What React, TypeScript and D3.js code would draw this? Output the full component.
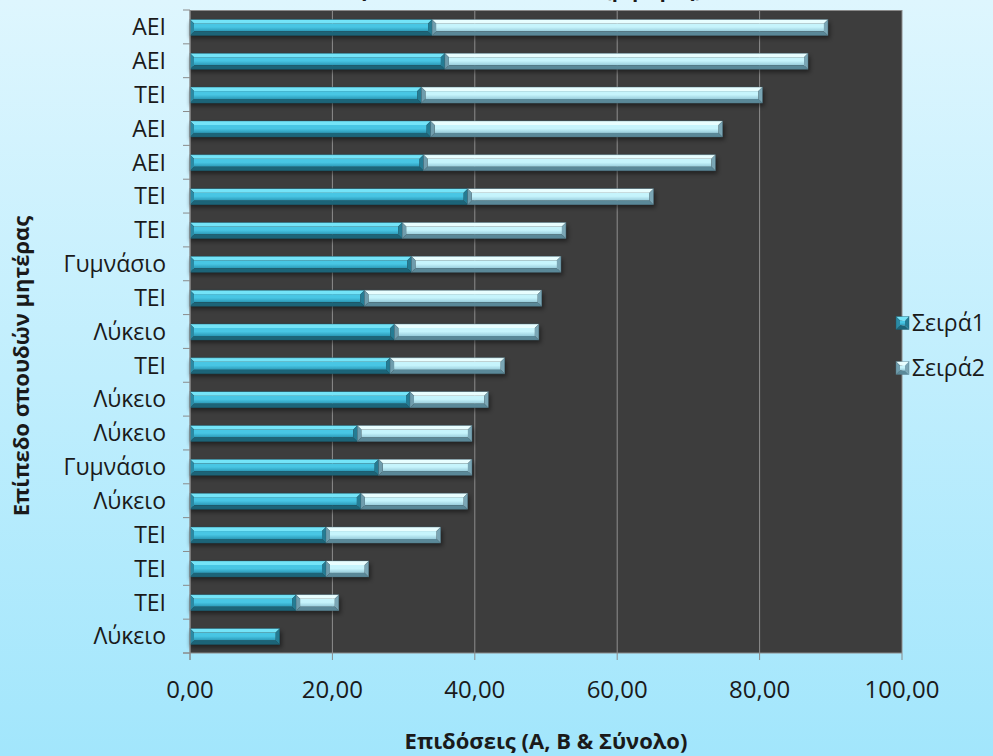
import React from "react";
import * as d3 from "d3";

const categories = [
  "ΑΕΙ", "ΑΕΙ", "ΤΕΙ", "ΑΕΙ", "ΑΕΙ", "ΤΕΙ", "ΤΕΙ", "Γυμνάσιο", "ΤΕΙ", "Λύκειο",
  "ΤΕΙ", "Λύκειο", "Λύκειο", "Γυμνάσιο", "Λύκειο", "ΤΕΙ", "ΤΕΙ", "ΤΕΙ", "Λύκειο",
];
const series1 = [34.0, 35.8, 32.5, 33.8, 32.8, 39.0, 29.8, 31.1, 24.5, 28.7, 28.1, 30.9, 23.5, 26.5, 24.0, 19.1, 19.1, 14.9, 12.6];
const series2 = [55.6, 51.0, 47.9, 41.0, 41.0, 26.1, 23.0, 21.0, 24.9, 20.3, 16.1, 11.0, 16.1, 13.1, 15.0, 16.1, 6.0, 6.0, 0.0];
const seriesNames = ["Σειρά1", "Σειρά2"];
const xTicks = [0, 20, 40, 60, 80, 100];
const xTitle = "Επιδόσεις (Α, Β & Σύνολο)";
const yTitle = "Επίπεδο σπουδών μητέρας";
const chartTitle = "Επιδόσεις ανά επίπεδο σπουδών (μητέρας)";

const W = 993, H = 756;
const plot = { left: 190, right: 902, top: 10, bottom: 653 };
const FONT = "'Open Sans', 'Noto Sans', sans-serif";

type Pal = { top: string; faceA: string; faceB: string; bottom: string; left: string; right: string; edge: string };
const pals: Pal[] = [
  { top: "#74e4f8", faceA: "#48c6e4", faceB: "#2b98b6", bottom: "#1c6478", left: "#2a8aa4", right: "#247c94", edge: "#1a5a6c" },
  { top: "#e8feff", faceA: "#c6f4fc", faceB: "#98ccdb", bottom: "#5a8898", left: "#6f9dad", right: "#7aa6b5", edge: "#4e7888" },
];

function BevelBar({ x0, x1, y0, y1, p, id }: { x0: number; x1: number; y0: number; y1: number; p: Pal; id: string }) {
  const w = x1 - x0;
  if (w <= 0.5) return null;
  const b = Math.min(4, w / 2);
  const pts = (a: number[][]) => a.map((q) => q.join(",")).join(" ");
  return (
    <g>
      <rect x={x0 + b} y={y0 + b} width={Math.max(0, w - 2 * b)} height={y1 - y0 - 2 * b} fill={`url(#${id})`} />
      <polygon points={pts([[x0, y0], [x1, y0], [x1 - b, y0 + b], [x0 + b, y0 + b]])} fill={p.top} />
      <polygon points={pts([[x0, y1], [x1, y1], [x1 - b, y1 - b], [x0 + b, y1 - b]])} fill={p.bottom} />
      <polygon points={pts([[x0, y0], [x0 + b, y0 + b], [x0 + b, y1 - b], [x0, y1]])} fill={p.left} />
      <polygon points={pts([[x1, y0], [x1 - b, y0 + b], [x1 - b, y1 - b], [x1, y1]])} fill={p.right} />
      <rect x={x0} y={y0} width={w} height={y1 - y0} fill="none" stroke={p.edge} strokeWidth={0.6} opacity={0.7} />
    </g>
  );
}

export default function App() {
  const x = d3.scaleLinear().domain([0, 100]).range([plot.left, plot.right]);
  const idx = categories.map((_, i) => String(i));
  const y = d3.scaleBand().domain(idx).range([plot.top, plot.bottom]).paddingInner(0).paddingOuter(0);
  const bw = y.bandwidth();
  const barH = 16;

  const stacked = categories.map((c, i) => {
    const a = series1[i];
    const b = series2[i];
    return { c, i, segs: [[0, a], [a, a + b]] };
  });

  return (
    <svg width={W} height={H} style={{ position: "absolute", left: 0, top: 0 }} fontFamily={FONT}>
      <defs>
        <linearGradient id="bg" x1="0" y1="0" x2="0" y2="1">
          <stop offset="0" stopColor="#def6fe" />
          <stop offset="1" stopColor="#a2e6fc" />
        </linearGradient>
        {pals.map((p, k) => (
          <linearGradient key={k} id={`face${k}`} x1="0" y1="0" x2="0" y2="1">
            <stop offset="0" stopColor={p.faceA} />
            <stop offset="0.45" stopColor={p.faceA} />
            <stop offset="1" stopColor={p.faceB} />
          </linearGradient>
        ))}
        <filter id="shadow" x="-5%" y="-50%" width="110%" height="200%">
          <feGaussianBlur stdDeviation="2" />
        </filter>
      </defs>
      <rect x={0} y={0} width={W} height={H} fill="url(#bg)" />
      <text x={702} y={-3} textAnchor="end" fontSize={20} fontWeight="bold" fill="#1a1a1a">{chartTitle}</text>

      {/* plot area */}
      <rect x={plot.left} y={plot.top} width={plot.right - plot.left} height={plot.bottom - plot.top} fill="#3d3d3d" />
      {xTicks.map((t) => (
        <line key={t} x1={x(t)} x2={x(t)} y1={plot.top} y2={plot.bottom} stroke="#8e8e8e" strokeWidth={1} />
      ))}
      <line x1={plot.left} x2={plot.right} y1={plot.top + 0.5} y2={plot.top + 0.5} stroke="#8a8a8a" />

      {/* bars */}
      {stacked.map((d) => {
        const cy = (y(String(d.i)) as number) + bw / 2 + 0.5;
        const y0 = cy - barH / 2, y1 = cy + barH / 2;
        const total = d.segs[1][1];
        return (
          <g key={d.i}>
            <rect x={x(0)} y={y0 + 3} width={x(total) - x(0) + 2} height={barH} fill="#000" opacity={0.45} filter="url(#shadow)" />
            {d.segs.map((s, k) => (
              <BevelBar key={k} x0={x(s[0])} x1={x(s[1])} y0={y0} y1={y1} p={pals[k]} id={`face${k}`} />
            ))}
          </g>
        );
      })}

      {/* axes */}
      <line x1={plot.left} x2={plot.left} y1={plot.top} y2={plot.bottom + 7} stroke="#8a8a8a" />
      {d3.range(categories.length + 1).map((k) => {
        const yy = plot.top + k * bw;
        return <line key={k} x1={plot.left - 7} x2={plot.left} y1={yy} y2={yy} stroke="#8a8a8a" />;
      })}
      <line x1={plot.left - 7} x2={plot.right} y1={plot.bottom} y2={plot.bottom} stroke="#8a8a8a" />
      {xTicks.map((t) => (
        <line key={"t" + t} x1={x(t)} x2={x(t)} y1={plot.bottom} y2={plot.bottom + 7} stroke="#8a8a8a" />
      ))}
      {xTicks.map((t) => (
        <text key={"l" + t} x={x(t)} y={698} textAnchor="middle" fontSize={24} fill="#1a1a1a">
          {d3.format(".2f")(t).replace(".", ",")}
        </text>
      ))}
      {categories.map((c, i) => (
        <text key={"c" + i} x={166} y={(y(String(i)) as number) + bw / 2} dy="0.36em" textAnchor="end" fontSize={23} fill="#1a1a1a">
          {c}
        </text>
      ))}

      {/* titles */}
      <text x={546} y={749} textAnchor="middle" fontSize={22} fontWeight="bold" fill="#1a1a1a">{xTitle}</text>
      <text transform={`translate(29,${366}) rotate(-90)`} textAnchor="middle" fontSize={22} fontWeight="bold" fill="#1a1a1a">{yTitle}</text>

      {/* legend */}
      {seriesNames.map((n, k) => {
        const ly = 323 + k * 45;
        return (
          <g key={n}>
            <BevelBar x0={896} x1={909} y0={ly - 6.5} y1={ly + 6.5} p={pals[k]} id={`face${k}`} />
            <text x={912} y={ly} dy="0.36em" fontSize={23} fill="#1a1a1a">{n}</text>
          </g>
        );
      })}
    </svg>
  );
}
